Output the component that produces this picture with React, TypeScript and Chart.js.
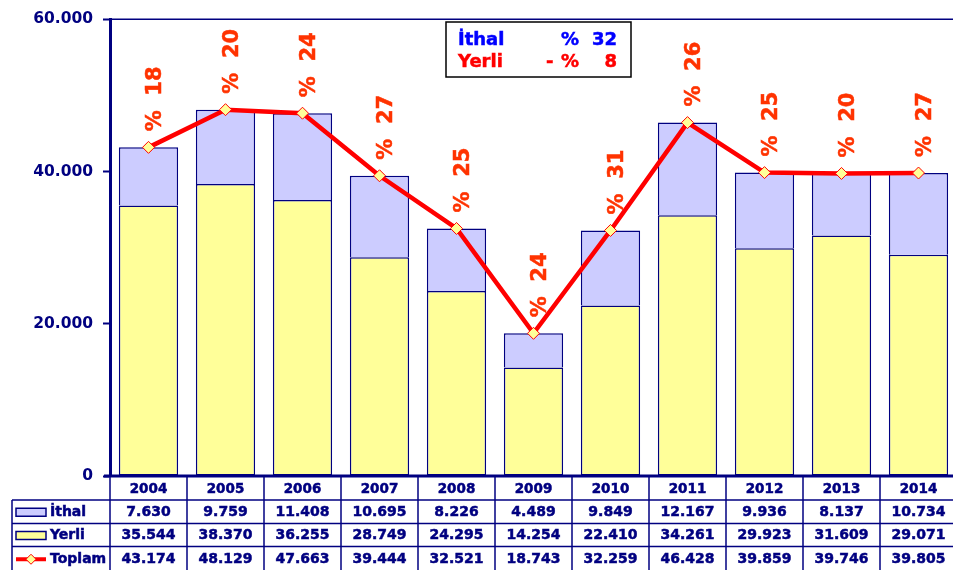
import { useEffect, useRef } from "react";
import { Chart, registerables } from "chart.js";

Chart.register(...registerables);

const years = ["2004", "2005", "2006", "2007", "2008", "2009", "2010", "2011", "2012", "2013", "2014"];
const ithal = [7630, 9759, 11408, 10695, 8226, 4489, 9849, 12167, 9936, 8137, 10734];
const yerli = [35544, 38370, 36255, 28749, 24295, 14254, 22410, 34261, 29923, 31609, 29071];
const toplam = [43174, 48129, 47663, 39444, 32521, 18743, 32259, 46428, 39859, 39746, 39805];
const ithalPct = [18, 20, 24, 27, 25, 24, 31, 26, 25, 20, 27];
const changeNames = ["İthal", "Yerli"];
const changeValues = [32, -8];

const NAVY = "#000080";
const LAVENDER = "#CCCCFF";
const YELLOW = "#FFFF99";
const RED = "#FF0000";
const FONT = "'DejaVu Sans', Verdana, sans-serif";

const fmt = (v: number) => String(v).replace(/\B(?=(\d{3})+(?!\d))/g, ".");

function line(ctx: CanvasRenderingContext2D, x1: number, y1: number, x2: number, y2: number) {
  ctx.beginPath();
  ctx.moveTo(x1, y1);
  ctx.lineTo(x2, y2);
  ctx.stroke();
}

function boldText(ctx: CanvasRenderingContext2D, s: string, x: number, y: number) {
  ctx.fillText(s, x, y);
  ctx.lineWidth = 0.5;
  ctx.strokeStyle = ctx.fillStyle as string;
  ctx.strokeText(s, x, y);
}

const overlay = {
  id: "overlay",
  afterDatasetsDraw(chart: any) {
    const ctx: CanvasRenderingContext2D = chart.ctx;
    const { left, right, top, bottom } = chart.chartArea;
    const xs = chart.scales.x;
    ctx.save();
    // top frame line
    ctx.strokeStyle = NAVY;
    ctx.lineWidth = 1.5;
    line(ctx, left, top, right, top);
    // bottom axis
    ctx.lineWidth = 3;
    line(ctx, left - 6, bottom, right, bottom);

    // percentage labels
    const meta = chart.getDatasetMeta(2);
    meta.data.forEach((pt: any, i: number) => {
      ctx.save();
      ctx.translate(pt.x + 12, pt.y - 16);
      ctx.rotate(-Math.PI / 2);
      ctx.font = `bold 21px ${FONT}`;
      ctx.fillStyle = "#FF3300";
      ctx.textAlign = "left";
      ctx.textBaseline = "alphabetic";
      boldText(ctx, "%  " + ithalPct[i], 0, 0);
      ctx.restore();
    });

    // change legend box
    const bx = 446, by = 22, bw = 185, bh = 55;
    ctx.fillStyle = "#FFFFFF";
    ctx.fillRect(bx, by, bw, bh);
    ctx.strokeStyle = "#000000";
    ctx.lineWidth = 1.5;
    ctx.strokeRect(bx, by, bw, bh);
    ctx.font = `bold 18px ${FONT}`;
    ctx.textBaseline = "middle";
    const colors = ["#0000FF", RED];
    changeNames.forEach((name, i) => {
      const cy = by + 18 + i * 22;
      ctx.fillStyle = colors[i];
      ctx.textAlign = "left";
      boldText(ctx, name, bx + 12, cy);
      boldText(ctx, "%", bx + 115, cy);
      if (changeValues[i] < 0) boldText(ctx, "-", bx + 100, cy);
      ctx.textAlign = "right";
      boldText(ctx, String(Math.abs(changeValues[i])), bx + 171, cy);
    });

    // data table
    const rowTop = bottom;
    const rows = [bottom, 500, 523.5, 546.5, 571];
    const legLeft = 12;
    ctx.strokeStyle = NAVY;
    ctx.lineWidth = 1.5;
    for (let r = 1; r < rows.length; r++) {
      line(ctx, legLeft, rows[r], right, rows[r]);
    }
    line(ctx, legLeft, rows[1], legLeft, rows[4]);
    const catW = (right - left) / years.length;
    for (let i = 0; i <= years.length; i++) {
      const x = xs.getPixelForValue(i) - catW / 2;
      line(ctx, x, rowTop, x, rows[4]);
    }
    ctx.fillStyle = NAVY;
    ctx.textAlign = "center";
    ctx.textBaseline = "middle";
    ctx.font = `bold 13.5px ${FONT}`;
    years.forEach((y, i) => {
      boldText(ctx, y, xs.getPixelForValue(i), (rows[0] + rows[1]) / 2 + 1);
    });
    ctx.font = `bold 14px ${FONT}`;
    const series = [ithal, yerli, toplam];
    series.forEach((arr, r) => {
      const cy = (rows[r + 1] + rows[r + 2]) / 2 + 0.5;
      arr.forEach((v, i) => {
        ctx.fillStyle = NAVY;
        boldText(ctx, fmt(v), xs.getPixelForValue(i), cy);
      });
    });
    const names = ["İthal", "Yerli", "Toplam"];
    names.forEach((n, r) => {
      const cy = (rows[r + 1] + rows[r + 2]) / 2 + 0.5;
      if (r < 2) {
        ctx.fillStyle = r === 0 ? LAVENDER : YELLOW;
        ctx.fillRect(16, cy - 4, 30, 8);
        ctx.strokeStyle = NAVY;
        ctx.lineWidth = 1.5;
        ctx.strokeRect(16, cy - 4, 30, 8);
      } else {
        ctx.strokeStyle = RED;
        ctx.lineWidth = 4;
        line(ctx, 16, cy, 46, cy);
        ctx.beginPath();
        ctx.moveTo(31, cy - 5);
        ctx.lineTo(36, cy);
        ctx.lineTo(31, cy + 5);
        ctx.lineTo(26, cy);
        ctx.closePath();
        ctx.fillStyle = YELLOW;
        ctx.fill();
        ctx.lineWidth = 1;
        ctx.stroke();
      }
      ctx.fillStyle = NAVY;
      ctx.textAlign = "left";
      boldText(ctx, n, 50, cy);
    });
    ctx.restore();
  },
};

export default function App() {
  const ref = useRef<HTMLCanvasElement | null>(null);
  useEffect(() => {
    document.body.style.margin = "0";
    document.body.style.overflow = "hidden";
    document.documentElement.style.overflow = "hidden";
    const canvas = ref.current;
    if (!canvas) return;
    const chart = new Chart(canvas, {
      type: "bar",
      data: {
        labels: years,
        datasets: [
          {
            type: "bar",
            label: "Yerli",
            data: yerli,
            backgroundColor: YELLOW,
            borderColor: NAVY,
            borderWidth: 1.5,
            borderSkipped: false,
            stack: "bars",
            order: 1,
            barPercentage: 0.77,
            categoryPercentage: 1,
          } as any,
          {
            type: "bar",
            label: "İthal",
            data: ithal,
            backgroundColor: LAVENDER,
            borderColor: NAVY,
            borderWidth: 1.5,
            borderSkipped: "bottom",
            stack: "bars",
            order: 1,
            barPercentage: 0.77,
            categoryPercentage: 1,
          } as any,
          {
            type: "line",
            label: "Toplam",
            data: toplam,
            borderColor: RED,
            borderWidth: 4.5,
            pointStyle: "rectRot",
            pointRadius: 6,
            pointBackgroundColor: YELLOW,
            pointBorderColor: RED,
            pointBorderWidth: 1,
            stack: "line",
            order: 0,
            tension: 0,
          } as any,
        ],
      },
      options: {
        responsive: false,
        animation: false,
        devicePixelRatio: 1,
        layout: { padding: { top: 16, bottom: 94, left: 0, right: 0 } },
        plugins: { legend: { display: false }, tooltip: { enabled: false } },
        scales: {
          x: { display: false, stacked: true, offset: true },
          y: {
            stacked: true,
            min: 0,
            max: 60000,
            afterFit: (s: any) => {
              s.width = 110;
            },
            ticks: {
              stepSize: 20000,
              padding: 10,
              color: NAVY,
              font: { family: FONT, weight: "bold", size: 15.5 },
              callback: (v: any) => fmt(Number(v)),
            },
            grid: {
              drawOnChartArea: false,
              drawTicks: true,
              tickLength: 7,
              tickColor: NAVY,
              tickWidth: 2,
            },
            border: { display: true, color: NAVY, width: 3 },
          },
        },
      } as any,
      plugins: [overlay],
    });
    return () => chart.destroy();
  }, []);
  return <canvas ref={ref} width={964} height={570} style={{ display: "block" }} />;
}
